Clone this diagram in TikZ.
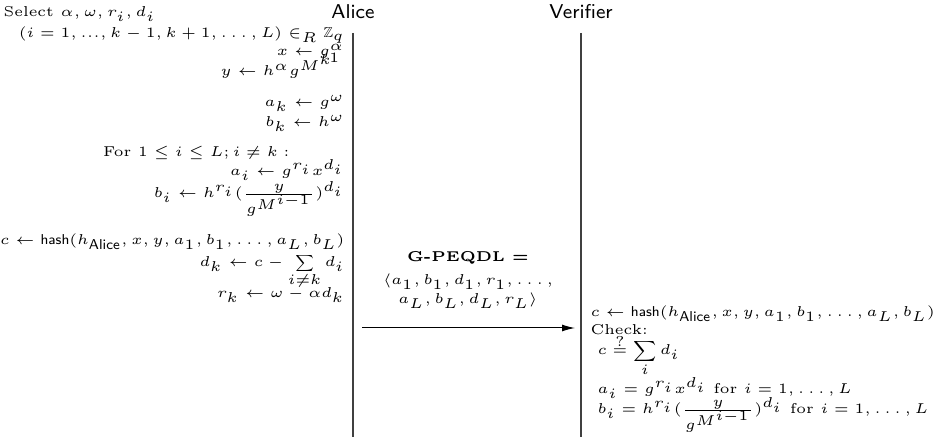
\documentclass[tikz,border=0pt]{standalone}
\usepackage{amsmath, amssymb}
\usepackage{graphicx}
\usepackage{tikz}
\usetikzlibrary{arrows.meta}

\newcommand{\midsum}{\mathop{\vcenter{\hbox{\scalebox{0.8}{$\displaystyle\sum$}}}}\limits}

\begin{document}
\begin{tikzpicture}[
    x=0.35pt, y=-0.35pt,
    party/.style={
        font=\scriptsize\sffamily,
        inner sep=0pt
    },
    lline/.style={
        anchor=base east,
        font=\tiny,
        inner sep=0pt
    },
    rline/.style={
        anchor=base west,
        font=\tiny,
        inner sep=0pt
    },
    msgline/.style={
        anchor=base,
        font=\tiny,
        inner sep=0pt
    },
    lifeline/.style={
        draw=black!75,
        line width=0.45pt
    },
    arrow/.style={
        -{Latex[length=4.5pt, width=2.4pt]},
        draw=black,
        line width=0.35pt
    }
]
\useasboundingbox (0,0) rectangle (940,437);

% Parties
\node (alice) [party] at (353,12) {Alice};
\node (verifier) [party] at (581,12) {Verifier};
\coordinate (aliceTop) at (353,33);
\coordinate (aliceBot) at (353,437);
\coordinate (verTop) at (581,33);
\coordinate (verBot) at (581,437);

% Alice side
\node (sel) [rline] at (3,17) {Select $\alpha, \omega, r_i, d_i$};
\node (range) [lline] at (345,38) {$(i = 1, ..., k-1, k+1, \ldots, L) \in_R \mathbb{Z}_q$};
\node (xval) [lline] at (345,56) {$x \leftarrow g_1^{\alpha}$};
\node (yval) [lline] at (334,76) {$y \leftarrow h^{\alpha} g^{M^k}$};
\node (ak) [lline] at (345,107) {$a_k \leftarrow g^{\omega}$};
\node (bk) [lline] at (345,127) {$b_k \leftarrow h^{\omega}$};
\node (forl) [lline] at (290,157) {For $1 \leq i \leq L ; i \neq k :$};
\node (ai) [lline] at (345,176) {$a_i \leftarrow g^{r_i} x^{d_i}$};
\node (bi) [lline] at (345,198) {$b_i \leftarrow h^{r_i} (\frac{y}{g^{M^{i-1}}})^{d_i}$};
\node (hashA) [lline] at (345,245) {$c \leftarrow \textsf{hash}(h_{\textsf{Alice}}, x, y, a_1, b_1, \ldots, a_L, b_L)$};
\node (dk) [lline] at (345,267) {$d_k \leftarrow c - \midsum_{i \neq k} d_i$};
\node (rk) [lline] at (345,298) {$r_k \leftarrow \omega - \alpha d_k$};

% Message
\coordinate (msgStart) at (362,328);
\coordinate (msgEnd) at (575,328);
\node (msgHead) [msgline] at (468,262) {\textbf{G-PEQDL =}};
\node (msgBody) [msgline] at (468,285) {$\langle a_1, b_1, d_1, r_1, \ldots,$};
\node (msgTail) [msgline] at (468,304) {$a_L, b_L, d_L, r_L \rangle$};

% Verifier side
\node (hashV) [rline] at (590,317) {$c \leftarrow \textsf{hash}(h_{\textsf{Alice}}, x, y, a_1, b_1, \ldots, a_L, b_L)$};
\node (check) [rline] at (590,335) {Check:};
\node (csum) [rline] at (597,355) {$\displaystyle c \stackrel{?}{=} \sum_i d_i$};
\node (aichk) [rline] at (597,394) {$a_i = g^{r_i} x^{d_i}$ for $i = 1, \ldots, L$};
\node (bichk) [rline] at (597,414) {$b_i = h^{r_i} (\frac{y}{g^{M^{i-1}}})^{d_i}$ for $i = 1, \ldots, L$};

% Paths
\draw [lifeline] (aliceTop) -- (aliceBot);
\draw [lifeline] (verTop) -- (verBot);
\draw [arrow] (msgStart) -- (msgEnd);

\end{tikzpicture}
\end{document}
